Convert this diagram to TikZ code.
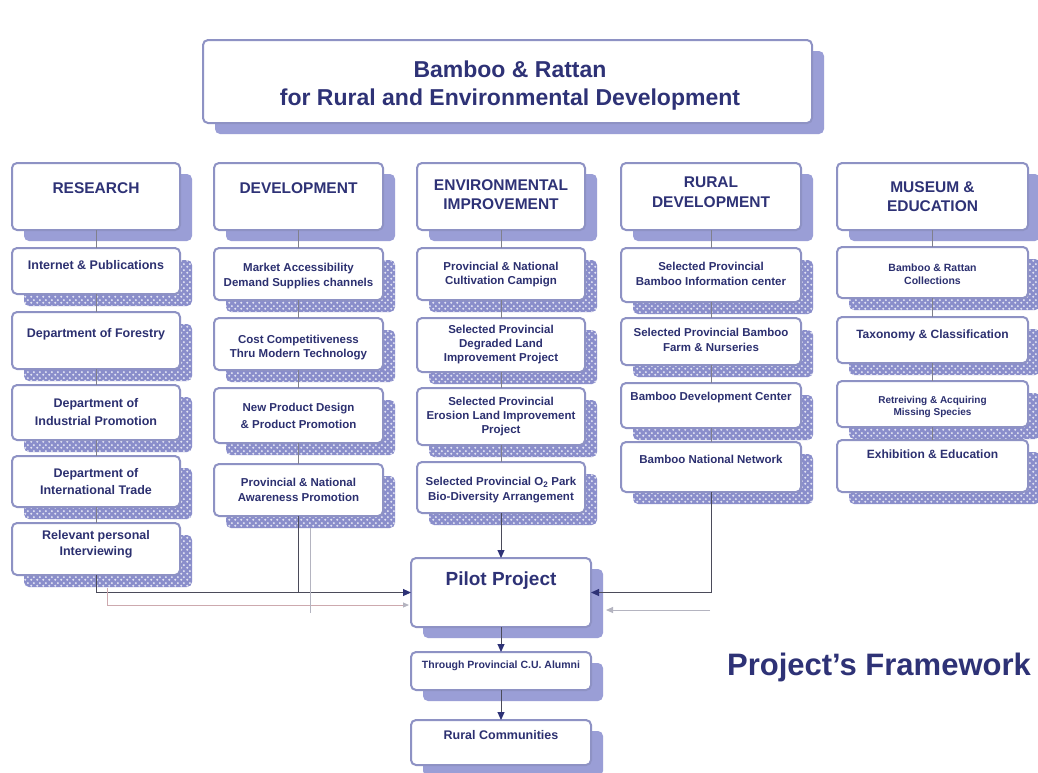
\documentclass[tikz,border=0pt]{standalone}
\usepackage{fontspec}
\setmainfont{Liberation Sans}
\usetikzlibrary{arrows.meta,patterns}
\pgfdeclarelayer{bgwhite}
\pgfdeclarelayer{back}
\pgfsetlayers{bgwhite,back,main}
\definecolor{bordc}{HTML}{8E92C4}
\definecolor{shadc}{HTML}{9A9ED6}
\definecolor{chkc}{HTML}{8A8ECB}
\definecolor{txtc}{HTML}{2C3070}
\definecolor{linec}{HTML}{80808C}
\definecolor{arrc}{HTML}{4B4B5A}
\definecolor{headc}{HTML}{2E3276}
\definecolor{faintc}{HTML}{B4B4C0}
\definecolor{faintr}{HTML}{CDA9AE}
\pgfdeclarepatternformonly{chkdots}{\pgfpointorigin}{\pgfpoint{6pt}{6pt}}{\pgfpoint{6pt}{6pt}}{%
  \pgfpathcircle{\pgfpoint{1.5pt}{1.5pt}}{1.3pt}%
  \pgfpathcircle{\pgfpoint{4.5pt}{4.5pt}}{1.3pt}%
  \pgfusepath{fill}}
\newcommand\fsz[2]{\fontsize{#1}{#2}\selectfont\bfseries}
\tikzset{
  boxst/.style={draw=bordc, line width=2pt, fill=white, rounded corners=5pt, inner sep=0pt, outer sep=0pt},
  txt/.style={text=txtc, align=center, inner sep=0pt, anchor=north},
  colline/.style={draw=linec, line width=0.8pt},
  arr/.style={draw=arrc, line width=1pt, -{Triangle[length=8pt,width=7pt,color=headc]}},
  faintarr/.style={draw=faintc, line width=1pt, -{Triangle[length=7pt,width=6pt,color=faintc]}},
}
% solid shadow box: name, x1, y1, x2, y2
\newcommand\sbx[5]{%
  \begin{pgfonlayer}{back}
    \fill[shadc, rounded corners=5pt] (#2+12,#3+11) rectangle (#4+12,#5+11);
  \end{pgfonlayer}
  \node[boxst, minimum width={(#4-#2)*1pt}, minimum height={(#5-#3)*1pt}] (#1) at ({(#2+#4)/2},{(#3+#5)/2}) {};}
% checkered shadow box
\newcommand\cbx[5]{%
  \begin{pgfonlayer}{back}
    \fill[chkc, rounded corners=5pt] (#2+12,#3+12) rectangle (#4+12,#5+12);
    \fill[pattern=chkdots, pattern color=white!75!chkc, rounded corners=5pt] (#2+12,#3+12) rectangle (#4+12,#5+12);
  \end{pgfonlayer}
  \node[boxst, minimum width={(#4-#2)*1pt}, minimum height={(#5-#3)*1pt}] (#1) at ({(#2+#4)/2},{(#3+#5)/2}) {};}
\begin{document}
\begin{tikzpicture}[x=1pt,y=-1pt]
\useasboundingbox (0,0) rectangle (1038,772);
\begin{pgfonlayer}{bgwhite}
\fill[white] (0,0) rectangle (1038,772);
\end{pgfonlayer}

% title
\sbx{title}{203}{40}{812}{123}
\node[txt, text=headc, font={\fsz{23}{28}}] (titlet) at (510,61) {Bamboo \& Rattan\\for Rural and Environmental Development};

% headers
\sbx{hr}{12}{163}{180}{230}
\sbx{hd}{214}{163}{383}{230}
\sbx{he}{417}{163}{585}{230}
\sbx{hrd}{621}{163}{801}{230}
\sbx{hm}{837}{163}{1028}{230}
\node[txt, text=headc, font={\fsz{15.5}{19.5}}] (hrt) at (96,182) {RESEARCH};
\node[txt, text=headc, font={\fsz{15.5}{19.5}}] (hdt) at (298.5,182) {DEVELOPMENT};
\node[txt, text=headc, font={\fsz{15.5}{19.5}}] (het) at (501,179) {ENVIRONMENTAL\\IMPROVEMENT};
\node[txt, text=headc, font={\fsz{15.5}{19.5}}] (hrdt) at (711,177) {RURAL\\DEVELOPMENT};
\node[txt, text=headc, font={\fsz{15.5}{19.5}}] (hmt) at (932.5,181) {MUSEUM \&\\EDUCATION};

% research column
\cbx{r1}{12}{248}{180}{294}
\cbx{r2}{12}{312}{180}{369}
\cbx{r3}{12}{385}{180}{440}
\cbx{r4}{12}{456}{180}{507}
\cbx{r5}{12}{523}{180}{575}
\node[txt, font={\fsz{12.5}{17}}] (r1t) at (96,260) {Internet \& Publications};
\node[txt, font={\fsz{12.5}{17}}] (r2t) at (96,328) {Department of Forestry};
\node[txt, font={\fsz{12.5}{18}}] (r3t) at (96,398) {Department of\\Industrial Promotion};
\node[txt, font={\fsz{12.5}{17}}] (r4t) at (96,468) {Department of\\International Trade};
\node[txt, font={\fsz{12.5}{16}}] (r5t) at (96,530) {Relevant personal\\Interviewing};

% development column
\cbx{d1}{214}{248}{383}{300}
\cbx{d2}{214}{318}{383}{370}
\cbx{d3}{214}{388}{383}{443}
\cbx{d4}{214}{464}{383}{516}
\node[txt, font={\fsz{11.5}{15}}] (d1t) at (298.5,263) {Market Accessibility\\Demand Supplies channels};
\node[txt, font={\fsz{11.5}{14}}] (d2t) at (298.5,335) {Cost Competitiveness\\Thru Modern Technology};
\node[txt, font={\fsz{11.5}{17}}] (d3t) at (298.5,403) {New Product Design\\\& Product Promotion};
\node[txt, font={\fsz{11.5}{15}}] (d4t) at (298.5,478) {Provincial \& National\\Awareness Promotion};

% environmental column
\cbx{e1}{417}{248}{585}{300}
\cbx{e2}{417}{318}{585}{372}
\cbx{e3}{417}{388}{585}{445}
\cbx{e4}{417}{462}{585}{513}
\node[txt, font={\fsz{11.5}{14}}] (e1t) at (501,262) {Provincial \& National\\Cultivation Campign};
\node[txt, font={\fsz{11.5}{14}}] (e2t) at (501,325) {Selected Provincial\\Degraded Land\\Improvement Project};
\node[txt, font={\fsz{11.5}{14}}] (e3t) at (501,397) {Selected Provincial\\Erosion Land Improvement\\Project};
\node[txt, font={\fsz{11.5}{15}}] (e4t) at (501,477) {Selected Provincial O\textsubscript{2} Park\\Bio-Diversity Arrangement};

% rural column
\cbx{rd1}{621}{248}{801}{302}
\cbx{rd2}{621}{318}{801}{365}
\cbx{rd3}{621}{383}{801}{428}
\cbx{rd4}{621}{442}{801}{492}
\node[txt, font={\fsz{11.5}{15}}] (rd1t) at (711,262) {Selected Provincial\\Bamboo Information center};
\node[txt, font={\fsz{11.5}{15}}] (rd2t) at (711,328) {Selected Provincial Bamboo\\Farm \& Nurseries};
\node[txt, font={\fsz{11.5}{15}}] (rd3t) at (711,392) {Bamboo Development Center};
\node[txt, font={\fsz{11.5}{15}}] (rd4t) at (711,455) {Bamboo National Network};

% museum column
\cbx{m1}{837}{247}{1028}{298}
\cbx{m2}{837}{317}{1028}{363}
\cbx{m3}{837}{381}{1028}{427}
\cbx{m4}{837}{440}{1028}{492}
\node[txt, font={\fsz{10.5}{13}}] (m1t) at (932.5,264) {Bamboo \& Rattan\\Collections};
\node[txt, font={\fsz{12}{15}}] (m2t) at (932.5,330) {Taxonomy \& Classification};
\node[txt, font={\fsz{10}{12}}] (m3t) at (932.5,396) {Retreiving \& Acquiring\\Missing Species};
\node[txt, font={\fsz{12}{15}}] (m4t) at (932.5,450) {Exhibition \& Education};

% pilot chain
\sbx{pilot}{411}{558}{591}{627}
\sbx{alumni}{411}{652}{591}{690}
\sbx{rcomm}{411}{720}{591}{765}
\node[txt, text=headc, font={\fsz{19}{22}}] (pilott) at (501,572) {Pilot Project};
\node[txt, font={\fsz{10.5}{13}}] (alumnit) at (501,661) {Through Provincial C.U. Alumni};
\node[txt, font={\fsz{12.5}{15}}] (rcommt) at (501,730) {Rural Communities};

% caption
\node[text=headc, font={\fsz{31}{36}}, inner sep=0pt, anchor=base] (fw) at (879,675) {Project's Framework};

% column lines
\draw[colline] (hr.south) -- (r1.north) (r1.south) -- (r2.north) (r2.south) -- (r3.north) (r3.south) -- (r4.north) (r4.south) -- (r5.north);
\draw[colline] (hd.south) -- (d1.north) (d1.south) -- (d2.north) (d2.south) -- (d3.north) (d3.south) -- (d4.north);
\draw[colline] (he.south) -- (e1.north) (e1.south) -- (e2.north) (e2.south) -- (e3.north) (e3.south) -- (e4.north);
\draw[colline] (hrd.south) -- (rd1.north) (rd1.south) -- (rd2.north) (rd2.south) -- (rd3.north) (rd3.south) -- (rd4.north);
\draw[colline] (hm.south) -- (m1.north) (m1.south) -- (m2.north) (m2.south) -- (m3.north) (m3.south) -- (m4.north);

% connectors to pilot
\draw[arr] (e4.south) -- (pilot.north);
\draw[arr] (pilot.south) -- (alumni.north);
\draw[arr] (alumni.south) -- (rcomm.north);
\draw[arr] (rd4.south) |- (pilot.east);
\draw[arr] (r5.south) |- (pilot.west);
\draw[draw=arrc, line width=1pt] (d4.south) -- (d4.south |- pilot.west);

% faint lines
\coordinate (fr1) at (710,610);
\coordinate (fr2) at (606,610);
\draw[faintarr] (fr1) -- (fr2);
\coordinate (fl1) at (107,588);
\coordinate (fl2) at (409,605);
\draw[draw=faintr, line width=1pt, -{Triangle[length=6pt,width=5pt,color=faintc]}] (fl1) |- (fl2);
\coordinate (dl1) at (310,528);
\coordinate (dl2) at (310,613);
\draw[draw=faintc, line width=0.8pt] (dl1) -- (dl2);
\end{tikzpicture}
\end{document}
